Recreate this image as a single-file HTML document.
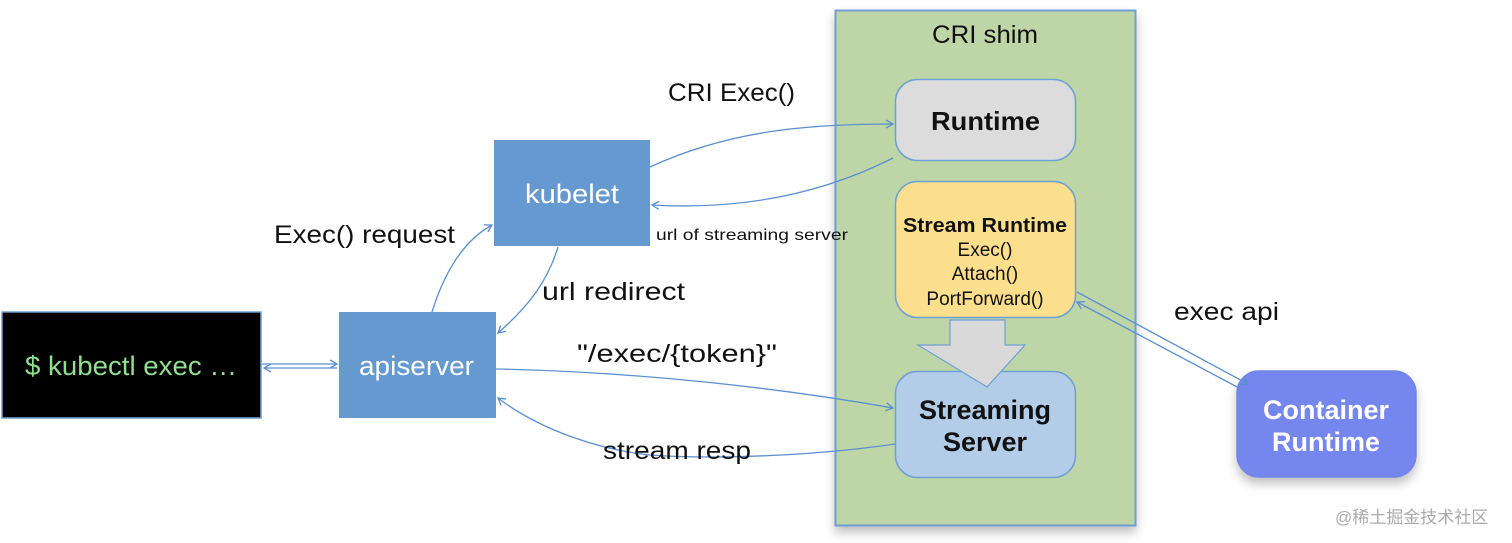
<!DOCTYPE html>
<html><head><meta charset="utf-8"><style>
html,body{margin:0;padding:0;background:#fff;width:1512px;height:543px;overflow:hidden}
svg{display:block}
text{font-family:"Liberation Sans","Noto Sans CJK SC",sans-serif}
</style></head><body>
<svg width="1512" height="543" viewBox="0 0 1512 543" xmlns="http://www.w3.org/2000/svg">
<defs>
<marker id="a" markerWidth="10" markerHeight="10" refX="8" refY="5" orient="auto" markerUnits="userSpaceOnUse">
<path d="M1,1 L8,5 L1,9" fill="none" stroke="#5b8fd0" stroke-width="1.3"/></marker>
<filter id="sh" x="-20%" y="-20%" width="140%" height="150%"><feDropShadow dx="0" dy="6" stdDeviation="5" flood-color="#000" flood-opacity="0.25"/></filter>
</defs>
<rect x="835.5" y="10.5" width="300" height="515" fill="#bdd5a7" stroke="#6f9fd3" stroke-width="2" filter="url(#sh)"/>
<text x="932" y="43" font-size="25" textLength="106" lengthAdjust="spacingAndGlyphs" fill="#111">CRI shim</text>
<rect x="895.5" y="79.5" width="180" height="81" rx="22" fill="#dcdcdc" stroke="#6f9fd3" stroke-width="1.5"/>
<text x="931" y="130" font-size="26" font-weight="bold" textLength="109" lengthAdjust="spacingAndGlyphs" fill="#111">Runtime</text>
<rect x="895.5" y="181.5" width="180" height="136" rx="22" fill="#fbdf8c" stroke="#6f9fd3" stroke-width="1.5"/>
<text x="903" y="232" font-size="20" font-weight="bold" textLength="164" lengthAdjust="spacingAndGlyphs" fill="#111">Stream Runtime</text>
<text x="985" y="256" font-size="19" text-anchor="middle" fill="#111">Exec()</text>
<text x="985" y="280" font-size="19" text-anchor="middle" fill="#111">Attach()</text>
<text x="985" y="305" font-size="19" text-anchor="middle" fill="#111">PortForward()</text>
<rect x="895.5" y="371.5" width="180" height="106" rx="22" fill="#b3cde9" stroke="#6f9fd3" stroke-width="1.5"/>
<polygon points="950,320 1005,320 1005,345 1025,345 987,387 918,345 950,345" fill="#d9d9d9" stroke="#6f9fd3" stroke-width="1.2"/>
<text x="985" y="419" font-size="27" font-weight="bold" text-anchor="middle" fill="#111">Streaming</text>
<text x="985" y="451" font-size="27" font-weight="bold" text-anchor="middle" fill="#111">Server</text>
<rect x="1237" y="371" width="179" height="106" rx="22" fill="#7686ef" stroke="#6f86e0" stroke-width="1.5" filter="url(#sh)"/>
<text x="1326" y="419" font-size="27" font-weight="bold" text-anchor="middle" fill="#fff">Container</text>
<text x="1326" y="451" font-size="27" font-weight="bold" text-anchor="middle" fill="#fff">Runtime</text>
<rect x="2" y="312" width="259" height="106" fill="#000" stroke="#6f9fd3" stroke-width="1.5"/>
<text x="25" y="375" font-size="27" textLength="212" lengthAdjust="spacingAndGlyphs" fill="#8fe08f">$ kubectl exec …</text>
<rect x="339" y="312" width="157" height="106" fill="#6699cf"/>
<text x="359" y="375" font-size="27" textLength="115" lengthAdjust="spacingAndGlyphs" fill="#fff">apiserver</text>
<rect x="494" y="140" width="156" height="106" fill="#6699cf"/>
<text x="525" y="203" font-size="27" textLength="94" lengthAdjust="spacingAndGlyphs" fill="#fff">kubelet</text>
<g fill="none" stroke="#5b8fd0" stroke-width="1.3">
<path d="M262,364 L337,364" marker-end="url(#a)"/>
<path d="M337,368 L264,368" marker-end="url(#a)"/>
<path d="M432,312 C445,270 465,240 492,225" marker-end="url(#a)"/>
<path d="M558,247 C548,280 530,305 498,333" marker-end="url(#a)"/>
<path d="M650,167 C730,130 810,124 893,124" marker-end="url(#a)"/>
<path d="M893,158 C820,195 740,210 652,205" marker-end="url(#a)"/>
<path d="M496,369 C640,372 780,388 893,408" marker-end="url(#a)"/>
<path d="M895,444 C820,455 720,460 650,455 C600,450 540,430 498,398" marker-end="url(#a)"/>
<path d="M1077,292 L1248,384" marker-end="url(#a)"/>
<path d="M1241,389 L1077,302" marker-end="url(#a)"/>
</g>
<text x="668" y="101" font-size="25" textLength="127" lengthAdjust="spacingAndGlyphs" fill="#111">CRI Exec()</text>
<text x="274" y="243" font-size="25" textLength="181" lengthAdjust="spacingAndGlyphs" fill="#111">Exec() request</text>
<text x="656" y="240" font-size="16" textLength="192" lengthAdjust="spacingAndGlyphs" fill="#111">url of streaming server</text>
<text x="542" y="300" font-size="25" textLength="143" lengthAdjust="spacingAndGlyphs" fill="#111">url redirect</text>
<text x="577" y="362" font-size="25" textLength="200" lengthAdjust="spacingAndGlyphs" fill="#111">"/exec/{token}"</text>
<text x="603" y="459" font-size="25" textLength="148" lengthAdjust="spacingAndGlyphs" fill="#111">stream resp</text>
<text x="1174" y="320" font-size="25" textLength="105" lengthAdjust="spacingAndGlyphs" fill="#111">exec api</text>
<text x="1335" y="523" font-size="17" fill="#aaa">@稀土掘金技术社区</text>
</svg>
</body></html>
